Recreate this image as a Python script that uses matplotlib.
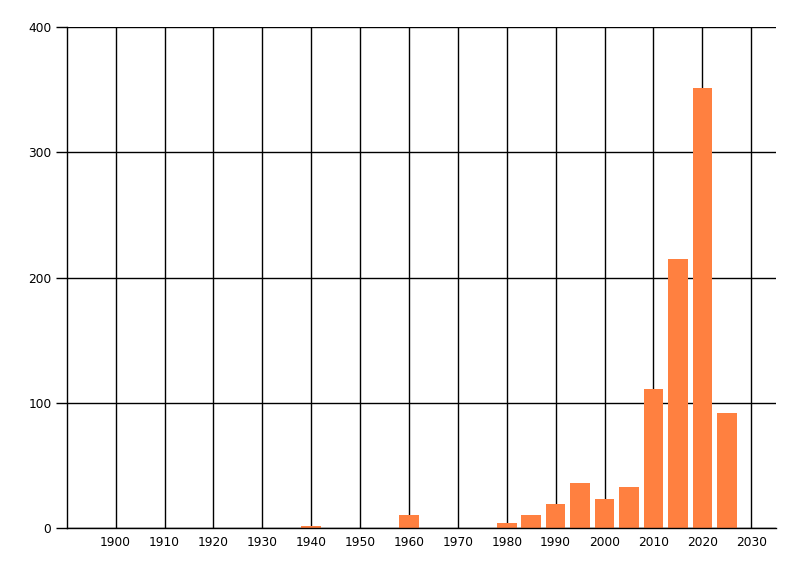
import matplotlib
matplotlib.use("Agg")
import matplotlib.pyplot as plt

# 5-year bins and counts
years = [1940, 1960, 1980, 1985, 1990, 1995, 2000, 2005, 2010, 2015, 2020, 2025]
counts = [2, 10, 4, 10, 19, 36, 23, 33, 111, 215, 351, 92]
xticks = list(range(1900, 2031, 10))
yticks = [0, 100, 200, 300, 400]

fig = plt.figure(figsize=(8, 5.76), dpi=100)
ax = fig.add_axes([0.0834, 0.0833, 0.8862, 0.8697])

ax.bar(years, counts, width=4, color="#ff8040", zorder=3)

ax.set_xlim(1890, 2035)
ax.set_ylim(0, 400)
ax.set_xticks(xticks)
ax.set_yticks(yticks)
ax.grid(True, color="black", linewidth=1, zorder=0)

for side in ["top", "right"]:
    ax.spines[side].set_visible(False)
for side in ["left", "bottom"]:
    ax.spines[side].set_linewidth(1)
    ax.spines[side].set_zorder(4)

ax.tick_params(axis="x", length=0, pad=6, labelsize=8.8)
ax.tick_params(axis="y", length=8, width=1, pad=3, labelsize=8.8)

fig.savefig("out.png", dpi=100)
